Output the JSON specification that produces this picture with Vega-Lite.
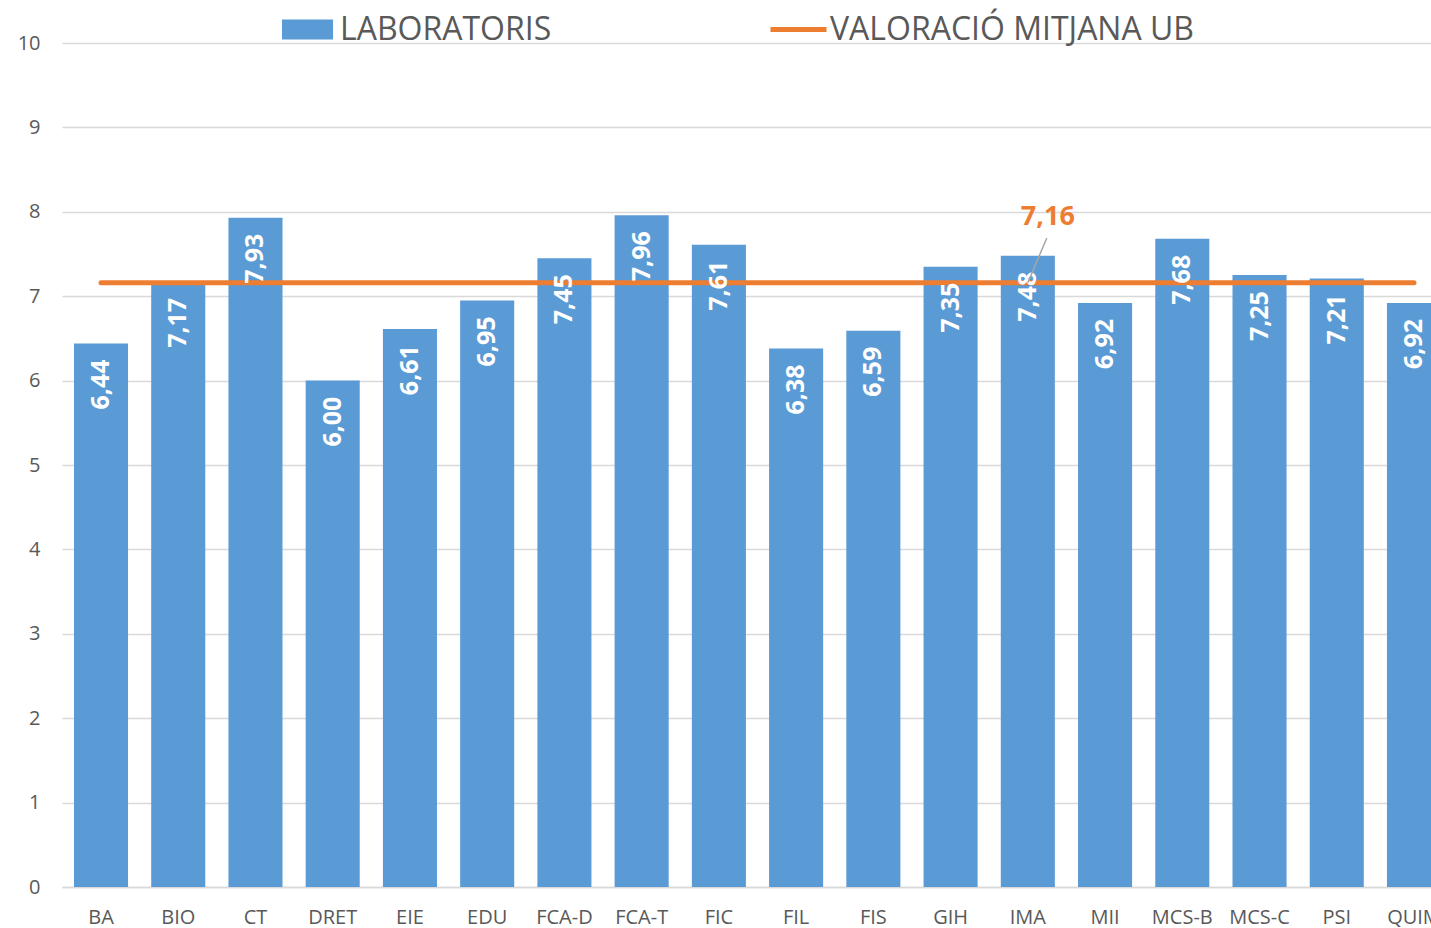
{
  "$schema": "https://vega.github.io/schema/vega-lite/v6.json",
  "autosize": {"type": "none"},
  "padding": {"left": 62, "top": 43, "right": 0, "bottom": 41},
  "width": 1369,
  "height": 844,
  "background": "white",
  "config": {
    "locale": {"number": {"decimal": ",", "thousands": ".", "grouping": [3], "currency": ["", " €"]}},
    "view": {"stroke": null},
    "font": "Open Sans"
  },
  "data": {
    "values": [
      {"cat": "BA", "valor": 6.44, "mitjana": 7.16},
      {"cat": "BIO", "valor": 7.17, "mitjana": 7.16},
      {"cat": "CT", "valor": 7.93, "mitjana": 7.16},
      {"cat": "DRET", "valor": 6.00, "mitjana": 7.16},
      {"cat": "EIE", "valor": 6.61, "mitjana": 7.16},
      {"cat": "EDU", "valor": 6.95, "mitjana": 7.16},
      {"cat": "FCA-D", "valor": 7.45, "mitjana": 7.16},
      {"cat": "FCA-T", "valor": 7.96, "mitjana": 7.16},
      {"cat": "FIC", "valor": 7.61, "mitjana": 7.16},
      {"cat": "FIL", "valor": 6.38, "mitjana": 7.16},
      {"cat": "FIS", "valor": 6.59, "mitjana": 7.16},
      {"cat": "GIH", "valor": 7.35, "mitjana": 7.16},
      {"cat": "IMA", "valor": 7.48, "mitjana": 7.16},
      {"cat": "MII", "valor": 6.92, "mitjana": 7.16},
      {"cat": "MCS-B", "valor": 7.68, "mitjana": 7.16},
      {"cat": "MCS-C", "valor": 7.25, "mitjana": 7.16},
      {"cat": "PSI", "valor": 7.21, "mitjana": 7.16},
      {"cat": "QUIM", "valor": 6.92, "mitjana": 7.16}
    ]
  },
  "encoding": {
    "x": {
      "field": "cat", "type": "nominal", "sort": null,
      "scale": {"range": [0, 1391], "paddingInner": 0.3, "paddingOuter": 0.155},
      "axis": {
        "title": null, "labelAngle": 0, "labelFontSize": 20, "labelColor": "#595959",
        "labelFont": "Open Sans", "ticks": false, "domainColor": "#d9d9d9", "domainWidth": 1.5,
        "labelPadding": 20, "grid": false
      }
    }
  },
  "layer": [
    {
      "mark": {"type": "bar", "color": "#5B9BD5"},
      "encoding": {
        "y": {
          "field": "valor", "type": "quantitative",
          "scale": {"domain": [0, 10], "nice": false},
          "axis": {
            "title": null, "values": [0,1,2,3,4,5,6,7,8,9,10], "format": "d", "labelFontSize": 20,
            "labelColor": "#595959", "labelFont": "Open Sans", "ticks": false, "domain": false,
            "gridColor": "#d9d9d9", "gridWidth": 1.5, "labelPadding": 22
          }
        },
        "fill": {
          "datum": "LABORATORIS", "type": "nominal",
          "scale": {"range": ["#5B9BD5"]},
          "legend": {
            "title": null, "orient": "none", "legendX": 220, "legendY": -39,
            "symbolType": "M-1,-0.39H1V0.39H-1Z", "symbolSize": 2601, "symbolStrokeWidth": 0,
            "labelFontSize": 32, "labelFont": "Open Sans", "labelColor": "#595959",
            "labelOffset": 7, "padding": 0, "symbolOpacity": 1, "labelLimit": 0
          }
        }
      }
    },
    {
      "mark": {"type": "line", "strokeWidth": 5, "strokeCap": "round"},
      "encoding": {
        "y": {"field": "mitjana", "type": "quantitative"},
        "stroke": {
          "datum": "VALORACIÓ MITJANA UB", "type": "nominal",
          "scale": {"range": ["#ED7D31"]},
          "legend": {
            "title": null, "orient": "none", "legendX": 706, "legendY": -44,
            "symbolType": "M-1,0H1", "symbolSize": 3136, "symbolStrokeWidth": 5,
            "labelFontSize": 32, "labelFont": "Open Sans", "labelColor": "#595959",
            "labelOffset": 1, "padding": 0, "labelLimit": 0
          }
        }
      }
    },
    {
      "mark": {"type": "text", "angle": -90, "align": "right", "baseline": "middle", "dx": -16, "color": "white", "fontWeight": "bold", "fontSize": 25, "font": "Open Sans"},
      "encoding": {
        "y": {"field": "valor", "type": "quantitative"},
        "text": {"field": "valor", "type": "quantitative", "format": ".2f"}
      }
    },
    {
      "transform": [{"filter": "datum.cat === 'IMA'"}],
      "mark": {"type": "rule", "color": "#a6a6a6", "strokeWidth": 1.5, "x2Offset": 19},
      "encoding": {
        "y": {"field": "mitjana", "type": "quantitative"},
        "y2": {"datum": 7.69},
        "x2": {"field": "cat"}
      }
    },
    {
      "transform": [{"filter": "datum.cat === 'IMA'"}],
      "mark": {"type": "text", "color": "#ED7D31", "fontWeight": "bold", "fontSize": 27, "font": "Open Sans", "dx": 20, "dy": -66, "baseline": "middle"},
      "encoding": {
        "y": {"field": "mitjana", "type": "quantitative"},
        "text": {"field": "mitjana", "type": "quantitative", "format": ".2f"}
      }
    }
  ]
}
